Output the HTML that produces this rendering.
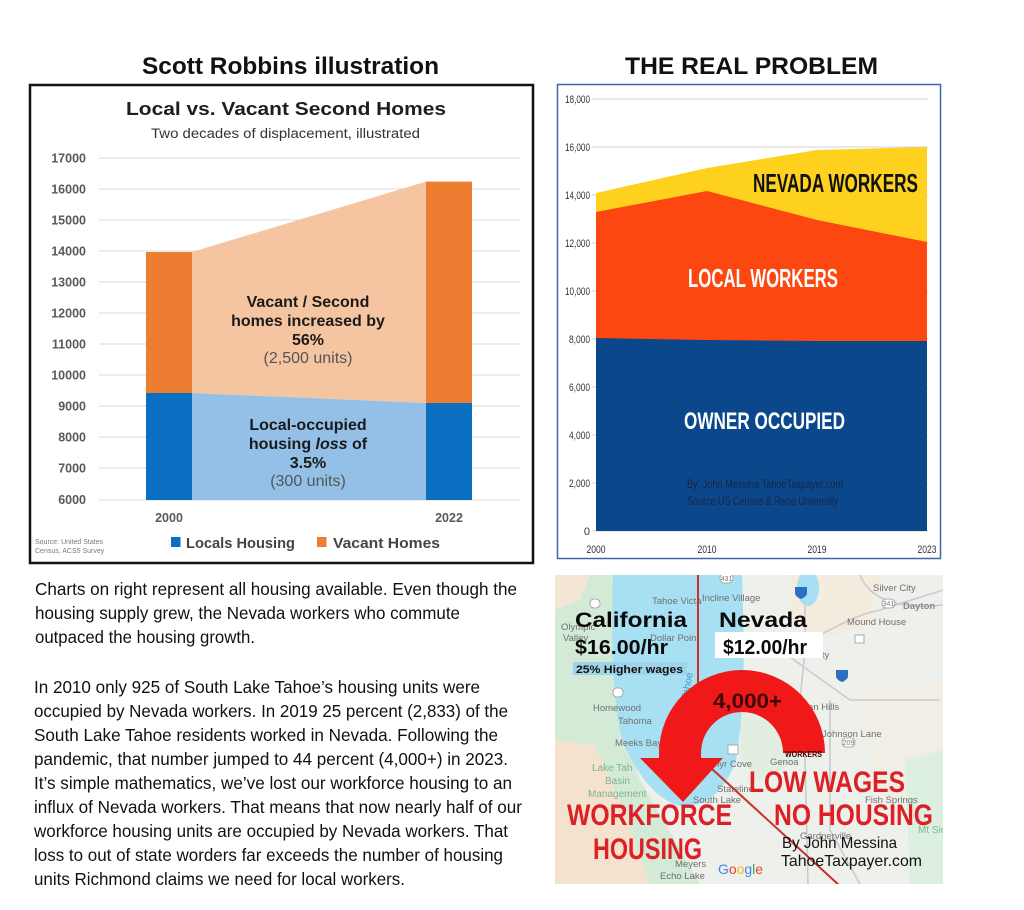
<!DOCTYPE html>
<html><head><meta charset="utf-8"><style>
html,body{margin:0;padding:0;background:#fff;}
svg{display:block;}
text{font-family:"Liberation Sans",Arial,sans-serif;}
</style></head><body>
<svg width="1024" height="910" viewBox="0 0 1024 910" xmlns="http://www.w3.org/2000/svg">
<rect width="1024" height="910" fill="#fff"/>

<!-- ============ LEFT CHART ============ -->
<text x="142" y="74" font-size="24" font-weight="bold" fill="#111" textLength="297" lengthAdjust="spacingAndGlyphs">Scott Robbins illustration</text>
<rect x="30" y="85" width="503" height="478" fill="#fff" stroke="#111" stroke-width="2.5"/>
<text x="126" y="115" font-size="18" font-weight="bold" fill="#1e1e1e" textLength="320" lengthAdjust="spacingAndGlyphs">Local vs. Vacant Second Homes</text>
<text x="151" y="138" font-size="13.5" fill="#333" textLength="269" lengthAdjust="spacingAndGlyphs">Two decades of displacement, illustrated</text>

<g stroke="#dadada" stroke-width="1">
<line x1="99" y1="158" x2="520" y2="158"/><line x1="99" y1="189" x2="520" y2="189"/>
<line x1="99" y1="220" x2="520" y2="220"/><line x1="99" y1="251" x2="520" y2="251"/>
<line x1="99" y1="282" x2="520" y2="282"/><line x1="99" y1="313" x2="520" y2="313"/>
<line x1="99" y1="344" x2="520" y2="344"/><line x1="99" y1="375" x2="520" y2="375"/>
<line x1="99" y1="406" x2="520" y2="406"/><line x1="99" y1="437" x2="520" y2="437"/>
<line x1="99" y1="468" x2="520" y2="468"/><line x1="99" y1="500" x2="520" y2="500"/>
</g>
<g font-size="12.5" font-weight="bold" fill="#595959" text-anchor="end">
<text x="86" y="162.5">17000</text><text x="86" y="193.5">16000</text><text x="86" y="224.5">15000</text>
<text x="86" y="255.5">14000</text><text x="86" y="286.5">13000</text><text x="86" y="317.5">12000</text>
<text x="86" y="348.5">11000</text><text x="86" y="379.5">10000</text><text x="86" y="410.5">9000</text>
<text x="86" y="441.5">8000</text><text x="86" y="472.5">7000</text><text x="86" y="504">6000</text>
</g>

<polygon points="192,252 426,181.6 426,403 192,393" fill="#f5c4a0"/>
<polygon points="192,393 426,403 426,500 192,500" fill="#94c0e8"/>
<rect x="146" y="252" width="46" height="141" fill="#ed7d31"/>
<rect x="146" y="393" width="46" height="107" fill="#0a6fc0"/>
<rect x="426" y="181.6" width="46" height="221.4" fill="#ed7d31"/>
<rect x="426" y="403" width="46" height="97" fill="#0a6fc0"/>

<g font-size="16" font-weight="bold" fill="#1a1a1a" text-anchor="middle">
<text x="308" y="307">Vacant / Second</text>
<text x="308" y="326">homes increased by</text>
<text x="308" y="345">56%</text>
<text x="308" y="430">Local-occupied</text>
<text x="308" y="449">housing <tspan font-style="italic">loss</tspan> of</text>
<text x="308" y="468">3.5%</text>
</g>
<g font-size="16" fill="#555" text-anchor="middle">
<text x="308" y="363">(2,500 units)</text>
<text x="308" y="486">(300 units)</text>
</g>

<g font-size="12.5" font-weight="bold" fill="#595959" text-anchor="middle">
<text x="169" y="522">2000</text><text x="449" y="522">2022</text>
</g>
<rect x="171" y="537" width="9.5" height="10" fill="#0a6fc0"/>
<text x="186" y="548" font-size="14.5" font-weight="bold" fill="#444" textLength="109" lengthAdjust="spacingAndGlyphs">Locals Housing</text>
<rect x="317" y="537" width="9.5" height="10" fill="#ed7d31"/>
<text x="333" y="548" font-size="14.5" font-weight="bold" fill="#444" textLength="107" lengthAdjust="spacingAndGlyphs">Vacant Homes</text>
<text x="35" y="544" font-size="7" fill="#7a7a7a">Source: United States</text>
<text x="35" y="553" font-size="7" fill="#7a7a7a">Census, ACS5 Survey</text>

<!-- ============ RIGHT CHART ============ -->
<text x="625" y="74" font-size="24" font-weight="bold" fill="#111" textLength="253" lengthAdjust="spacingAndGlyphs">THE REAL PROBLEM</text>
<rect x="557.5" y="84.5" width="383" height="474" fill="#fff" stroke="#3d66a8" stroke-width="1.5"/>
<g stroke="#d3d3d3" stroke-width="1">
<line x1="592" y1="99" x2="928" y2="99"/><line x1="592" y1="147" x2="928" y2="147"/>
<line x1="592" y1="195" x2="928" y2="195"/><line x1="592" y1="243" x2="928" y2="243"/>
<line x1="592" y1="291" x2="928" y2="291"/><line x1="592" y1="339" x2="928" y2="339"/>
<line x1="592" y1="387" x2="928" y2="387"/><line x1="592" y1="435" x2="928" y2="435"/>
<line x1="592" y1="483" x2="928" y2="483"/><line x1="592" y1="531" x2="928" y2="531"/>
</g>
<g font-size="11" fill="#333" text-anchor="end">
<text x="590" y="103" textLength="25" lengthAdjust="spacingAndGlyphs">18,000</text>
<text x="590" y="151" textLength="25" lengthAdjust="spacingAndGlyphs">16,000</text>
<text x="590" y="199" textLength="25" lengthAdjust="spacingAndGlyphs">14,000</text>
<text x="590" y="247" textLength="25" lengthAdjust="spacingAndGlyphs">12,000</text>
<text x="590" y="295" textLength="25" lengthAdjust="spacingAndGlyphs">10,000</text>
<text x="590" y="343" textLength="21" lengthAdjust="spacingAndGlyphs">8,000</text>
<text x="590" y="391" textLength="21" lengthAdjust="spacingAndGlyphs">6,000</text>
<text x="590" y="439" textLength="21" lengthAdjust="spacingAndGlyphs">4,000</text>
<text x="590" y="487" textLength="21" lengthAdjust="spacingAndGlyphs">2,000</text>
<text x="590" y="535">0</text>
</g>
<polygon points="596,193 707,168 817,150 927,147 927,531 596,531" fill="#fdd11e"/>
<polygon points="596,212 707,191 817,220 927,242 927,531 596,531" fill="#fc4711"/>
<polygon points="596,338 707,340 817,341 927,341 927,531 596,531" fill="#0a488b"/>
<g font-size="11" fill="#333" text-anchor="middle">
<text x="596" y="553" textLength="19" lengthAdjust="spacingAndGlyphs">2000</text>
<text x="707" y="553" textLength="19" lengthAdjust="spacingAndGlyphs">2010</text>
<text x="817" y="553" textLength="19" lengthAdjust="spacingAndGlyphs">2019</text>
<text x="927" y="553" textLength="19" lengthAdjust="spacingAndGlyphs">2023</text>
</g>
<text x="753" y="192" font-size="26" font-weight="bold" fill="#111" textLength="165" lengthAdjust="spacingAndGlyphs">NEVADA WORKERS</text>
<text x="688" y="287" font-size="26" font-weight="bold" fill="#fff" textLength="150" lengthAdjust="spacingAndGlyphs">LOCAL WORKERS</text>
<text x="684" y="429" font-size="24" font-weight="bold" fill="#fff" textLength="161" lengthAdjust="spacingAndGlyphs">OWNER OCCUPIED</text>
<text x="687" y="488" font-size="12" fill="#1a2440" textLength="156" lengthAdjust="spacingAndGlyphs">By: John Messina TahoeTaxpayer.com</text>
<text x="687" y="505" font-size="12" fill="#1a2440" textLength="151" lengthAdjust="spacingAndGlyphs">Source US Census &amp; Reno University</text>

<!-- ============ PARAGRAPHS ============ -->
<g font-size="17.5" fill="#111">
<text x="35" y="595" textLength="482" lengthAdjust="spacingAndGlyphs">Charts on right represent all housing available.  Even though the</text>
<text x="35" y="619" textLength="425" lengthAdjust="spacingAndGlyphs">housing supply grew, the Nevada workers who commute</text>
<text x="35" y="643" textLength="220" lengthAdjust="spacingAndGlyphs">outpaced the housing growth.</text>
<text x="34" y="693" textLength="446" lengthAdjust="spacingAndGlyphs">In 2010 only 925 of South Lake Tahoe’s housing units were</text>
<text x="34" y="717" textLength="474" lengthAdjust="spacingAndGlyphs">occupied by Nevada workers. In 2019 25 percent (2,833) of the</text>
<text x="34" y="741" textLength="464" lengthAdjust="spacingAndGlyphs">South Lake Tahoe residents worked in Nevada. Following the</text>
<text x="34" y="765" textLength="474" lengthAdjust="spacingAndGlyphs">pandemic, that number jumped to 44 percent (4,000+) in 2023.</text>
<text x="34" y="789" textLength="478" lengthAdjust="spacingAndGlyphs">It’s simple mathematics, we’ve lost our workforce housing to an</text>
<text x="34" y="813" textLength="488" lengthAdjust="spacingAndGlyphs">influx of Nevada workers. That means that now nearly half of our</text>
<text x="34" y="837" textLength="474" lengthAdjust="spacingAndGlyphs">workforce housing units are occupied by Nevada workers. That</text>
<text x="34" y="861" textLength="469" lengthAdjust="spacingAndGlyphs">loss to out of state worders far exceeds the number of housing</text>
<text x="34" y="885" textLength="371" lengthAdjust="spacingAndGlyphs">units Richmond claims we need for local workers.</text>
</g>

<!-- ============ MAP ============ -->
<defs><clipPath id="mc"><rect x="555" y="575" width="388" height="309"/></clipPath></defs>
<g clip-path="url(#mc)">
<rect x="555" y="575" width="388" height="309" fill="#eef0ec"/>
<!-- california green -->
<path d="M555,575 L650,575 L630,620 L615,700 L640,780 L700,884 L555,884 Z" fill="#d3ead6"/>
<path d="M555,740 L595,745 L620,800 L650,884 L555,884 Z" fill="#f4e2cf"/>
<path d="M555,575 L590,575 L580,600 L555,610 Z" fill="#f3e6d5"/>
<!-- nevada patches -->
<path d="M790,575 L880,575 L870,625 L820,640 L790,620 Z" fill="#f3ecdf"/>
<path d="M860,690 L943,680 L943,800 L880,800 Z" fill="#f1eee6"/>
<path d="M740,690 L790,700 L800,760 L760,780 L740,760 Z" fill="#e2efe0"/>
<path d="M905,760 L943,750 L943,884 L910,884 Z" fill="#dcefe0"/>
<!-- roads -->
<g fill="none" stroke="#c9cbd0" stroke-width="1.6">
<path d="M805,575 L805,650 L800,700 L805,760 L808,884"/>
<path d="M760,645 C800,660 830,620 880,610 L943,590"/>
<path d="M780,650 L850,700 L940,700"/>
<path d="M860,575 C870,600 900,610 943,605"/>
<path d="M830,700 L830,830 L860,884"/>
</g>
<!-- lakes -->
<ellipse cx="808" cy="588" rx="11" ry="18" fill="#a6e0f2"/>
<path d="M613,575 L742,575 C744,640 746,700 736,760 C726,790 706,808 681,806 C656,801 636,772 623,742 C612,702 611,640 613,575 Z" fill="#a6e0f2"/>
<!-- shields -->
<g font-size="7" fill="#777" text-anchor="middle">
<rect x="720" y="574" width="13" height="9" rx="4" fill="#fff" stroke="#999" stroke-width="0.8"/><text x="726.5" y="581">431</text>
<rect x="882" y="599" width="13" height="9" rx="4" fill="#fff" stroke="#999" stroke-width="0.8"/><text x="888.5" y="606">341</text>
<rect x="590" y="599" width="10" height="9" rx="4" fill="#fff" stroke="#999" stroke-width="0.8"/>
<rect x="613" y="688" width="10" height="9" rx="4" fill="#fff" stroke="#999" stroke-width="0.8"/>
<rect x="842" y="738" width="13" height="9" rx="4" fill="#fff" stroke="#999" stroke-width="0.8"/><text x="848.5" y="745">209</text>
<rect x="728" y="745" width="10" height="9" fill="#fff" stroke="#999" stroke-width="0.8"/>
<rect x="855" y="635" width="9" height="8" fill="#fff" stroke="#999" stroke-width="0.8"/>
</g>
<path d="M795,587 h12 v6 c0,4 -6,6 -6,6 c0,0 -6,-2 -6,-6 z" fill="#2d6fc2"/>
<path d="M836,670 h12 v6 c0,4 -6,6 -6,6 c0,0 -6,-2 -6,-6 z" fill="#2d6fc2"/>
<!-- place labels -->
<g font-size="9.5" fill="#707070">
<text x="873" y="591">Silver City</text>
<text x="903" y="609" font-weight="bold" fill="#888">Dayton</text>
<text x="847" y="625">Mound House</text>
<text x="652" y="604">Tahoe Victa</text>
<text x="702" y="601">Incline Village</text>
<text x="561" y="630">Olympic</text>
<text x="563" y="641">Valley</text>
<text x="650" y="641">Dollar Point</text>
<text x="805" y="658">n City</text>
<text x="593" y="711">Homewood</text>
<text x="618" y="724">Tahoma</text>
<text x="615" y="746">Meeks Bay</text>
<text x="808" y="710">an Hills</text>
<text x="822" y="737">Johnson Lane</text>
<text x="714" y="767">hyr Cove</text>
<text x="770" y="765">Genoa</text>
<text x="717" y="792">Stateline</text>
<text x="693" y="803">South Lake</text>
<text x="865" y="803">Fish Springs</text>
<text x="800" y="839">Gardnerville</text>
<text x="675" y="867">Meyers</text>
<text x="660" y="879">Echo Lake</text>
</g>
<g font-size="10" fill="#7cb68a">
<text x="592" y="771">Lake Tah</text>
<text x="605" y="784">Basin</text>
<text x="588" y="797">Management</text>
<text x="918" y="833">Mt Sie</text>
</g>
<text x="0" y="0" font-size="10" fill="#3a9fc8" transform="translate(688,700) rotate(-80)">Tahoe</text>
<!-- state line -->
<line x1="698" y1="575" x2="698" y2="700" stroke="#c8302a" stroke-width="2"/>
<line x1="700" y1="758" x2="840" y2="886" stroke="#c8302a" stroke-width="2"/>
<!-- arrow -->
<path d="M825,753 A83,83 0 0 0 659,753 L659,760 L701,760 L701,753 A41,41 0 0 1 783,753 Z" fill="#f01818"/>
<polygon points="640,758 723,758 683,802" fill="#f01818"/>
<text x="785" y="757" font-size="8" font-weight="bold" fill="#3a0505" textLength="37" lengthAdjust="spacingAndGlyphs">WORKERS</text>
<text x="713" y="708" font-size="21" font-weight="bold" fill="#3d0808" textLength="69" lengthAdjust="spacingAndGlyphs">4,000+</text>
<!-- wage labels -->
<text x="575" y="627" font-size="21" font-weight="bold" fill="#0a0a0a" textLength="112" lengthAdjust="spacingAndGlyphs">California</text>
<text x="719" y="627" font-size="21" font-weight="bold" fill="#0a0a0a" textLength="88" lengthAdjust="spacingAndGlyphs">Nevada</text>
<text x="575" y="654" font-size="20" font-weight="bold" fill="#0a0a0a" textLength="93" lengthAdjust="spacingAndGlyphs">$16.00/hr</text>
<rect x="715" y="632" width="108" height="26" fill="#fff"/>
<text x="723" y="654" font-size="20" font-weight="bold" fill="#0a0a0a" textLength="84" lengthAdjust="spacingAndGlyphs">$12.00/hr</text>
<rect x="573" y="662" width="114" height="13" fill="#9fd3ea"/>
<text x="576" y="673" font-size="11" font-weight="bold" fill="#111" textLength="107" lengthAdjust="spacingAndGlyphs">25% Higher wages</text>
<!-- big red labels -->
<g font-size="30" font-weight="bold" fill="#dd1f26">
<text x="749" y="792" textLength="156" lengthAdjust="spacingAndGlyphs">LOW WAGES</text>
<text x="774" y="825" textLength="159" lengthAdjust="spacingAndGlyphs">NO HOUSING</text>
<text x="567" y="825" textLength="165" lengthAdjust="spacingAndGlyphs">WORKFORCE</text>
<text x="593" y="859" textLength="109" lengthAdjust="spacingAndGlyphs">HOUSING</text>
</g>
<text x="782" y="848" font-size="16" fill="#111" textLength="115" lengthAdjust="spacingAndGlyphs">By John Messina</text>
<text x="781" y="866" font-size="16" fill="#111" textLength="141" lengthAdjust="spacingAndGlyphs">TahoeTaxpayer.com</text>
<text x="718" y="874" font-size="14" textLength="45" lengthAdjust="spacingAndGlyphs"><tspan fill="#4285f4">G</tspan><tspan fill="#ea4335">o</tspan><tspan fill="#fbbc05">o</tspan><tspan fill="#4285f4">g</tspan><tspan fill="#34a853">l</tspan><tspan fill="#ea4335">e</tspan></text>
</g>
</svg>
</body></html>
